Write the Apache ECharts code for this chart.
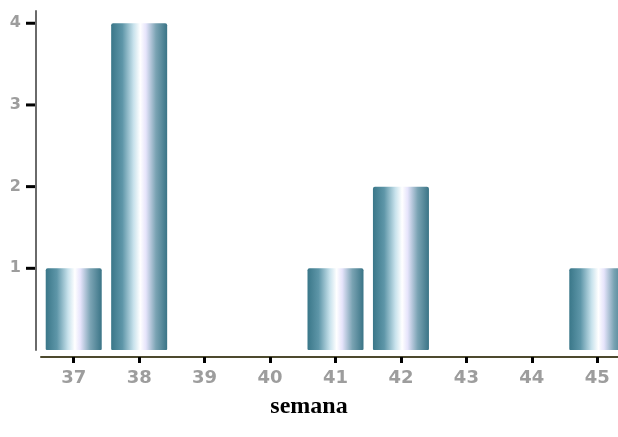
<!DOCTYPE html>
<html>
<head>
<meta charset="utf-8">
<script src="https://cdn.jsdelivr.net/npm/echarts@6/dist/echarts.min.js"></script>
<style>html,body{margin:0;padding:0;background:#fff}#c{width:618px;height:437px}</style>
</head>
<body>
<div id="c"></div>
<script>
var categories = ['37', '38', '39', '40', '41', '42', '43', '44', '45'];
var counts = [1, 4, 0, 0, 1, 2, 0, 0, 1];
var yTicks = [1, 2, 3, 4];
var xTitle = 'semana';

var chart = echarts.init(document.getElementById('c'), null, {renderer: 'canvas'});
var barGrad = new echarts.graphic.LinearGradient(0, 0, 1, 0, [
  {offset: 0, color: '#3a7789'},
  {offset: 0.2, color: '#5e96a8'},
  {offset: 0.4, color: '#c8e2ec'},
  {offset: 0.52, color: '#ffffff'},
  {offset: 0.62, color: '#e6e4fb'},
  {offset: 0.8, color: '#7aa3b3'},
  {offset: 1, color: '#3a7486'}
]);
chart.setOption({
  animation: false,
  title: {
    text: xTitle,
    left: 'center',
    top: 390,
    textStyle: {fontFamily: 'Liberation Serif', fontWeight: 'bold', fontSize: 24, color: '#000'}
  },
  grid: {left: 41, top: 11, right: -12, bottom: 87, containLabel: false, outerBoundsMode: 'none'},
  xAxis: {
    type: 'category',
    data: categories,
    offset: 7,
    axisLine: {show: true, onZero: false, lineStyle: {color: '#4d4a2e', width: 2}},
    axisTick: {show: true, alignWithLabel: true, length: 6, lineStyle: {color: '#000', width: 3}},
    axisLabel: {margin: 12, color: '#9d9d9d', fontFamily: 'DejaVu Sans', fontWeight: 'bold', fontSize: 18}
  },
  yAxis: {
    type: 'value',
    min: 0,
    max: 4.15,
    interval: 1,
    offset: 5,
    splitLine: {show: false},
    axisTick: {show: false},
    axisLine: {show: true, lineStyle: {color: '#6a6a6a', width: 2}},
    axisLabel: {
      margin: 1,
      formatter: function (v) {
        return yTicks.indexOf(v) >= 0 ? '{n|' + v + '}{g|}{t|}' : '';
      },
      rich: {
        n: {color: '#9d9d9d', fontFamily: 'DejaVu Sans', fontWeight: 'bold', fontSize: 16},
        g: {width: 5},
        t: {width: 9, height: 3, backgroundColor: '#000'}
      }
    }
  },
  series: [{
    type: 'bar',
    data: counts,
    barWidth: 56,
    itemStyle: {color: barGrad, borderWidth: 0, borderRadius: [2, 2, 1, 1]}
  }]
});
</script>
</body>
</html>
